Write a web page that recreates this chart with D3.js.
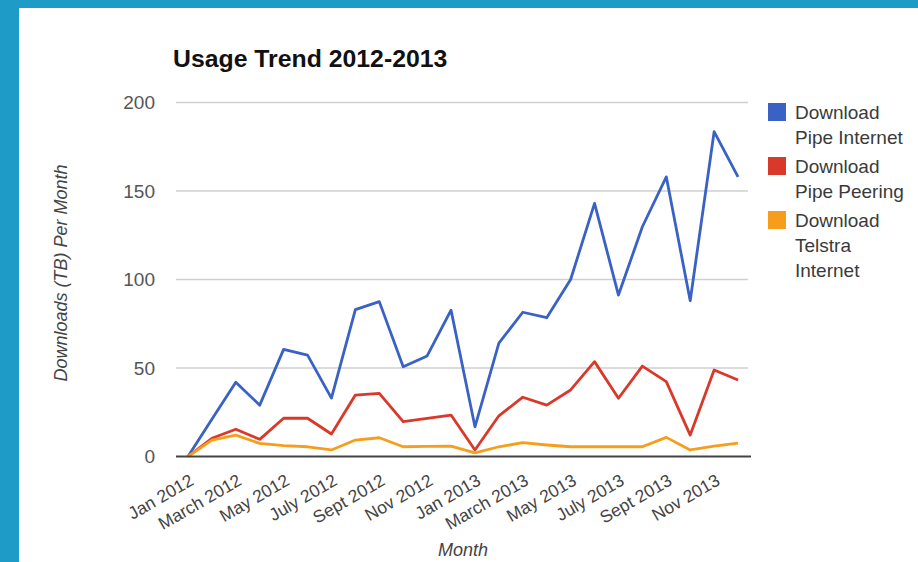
<!DOCTYPE html>
<html>
<head>
<meta charset="utf-8">
<script src="https://cdn.jsdelivr.net/npm/d3@7"></script>
<style>
    body { margin: 0; background: #1f9bc8; }
    text { font-family: "Liberation Sans", Arial, sans-serif; }
</style>
</head>
<body>
<svg id="chart" width="918" height="562"></svg>
<script>
var months = [
    "Jan 2012", "Feb 2012", "March 2012", "April 2012", "May 2012", "June 2012",
    "July 2012", "Aug 2012", "Sept 2012", "Oct 2012", "Nov 2012", "Dec 2012",
    "Jan 2013", "Feb 2013", "March 2013", "April 2013", "May 2013", "June 2013",
    "July 2013", "Aug 2013", "Sept 2013", "Oct 2013", "Nov 2013", "Dec 2013"
];

var pipeInternet = [0, 21, 42, 29, 60.5, 57.3, 33, 83, 87.5, 50.7, 56.8, 82.7,
    16.8, 64, 81.5, 78.4, 100, 143, 91.2, 129.8, 158, 88, 183.5, 158];
var pipePeering = [0, 10.3, 15.4, 9.7, 21.6, 21.6, 12.7, 34.7, 35.7, 19.7, 21.6, 23.4,
    3.7, 23, 33.5, 29, 37.6, 53.6, 32.9, 51.1, 42.3, 12.1, 48.9, 43.2];
var telstraInternet = [0, 9.3, 12.1, 7.4, 6.1, 5.5, 3.7, 9.3, 10.6, 5.5, 5.7, 5.9,
    2.1, 5.5, 7.8, 6.5, 5.5, 5.5, 5.5, 5.5, 10.8, 3.7, 5.9, 7.5];

var yTicks = [0, 50, 100, 150, 200];

var series = [
    { name: ["Download", "Pipe Internet"], values: pipeInternet, color: "#3a62c4" },
    { name: ["Download", "Pipe Peering"], values: pipePeering, color: "#d9392a" },
    { name: ["Download", "Telstra", "Internet"], values: telstraInternet, color: "#f79d1c" }
];

var svg = d3.select("#chart");

// white card inside the blue frame
svg.append("rect")
    .attr("x", 19).attr("y", 8)
    .attr("width", 918 - 19).attr("height", 562 - 8)
    .attr("fill", "#ffffff");

var plot = { left: 176, right: 750, top: 102.5, bottom: 456.5 };

var x = d3.scaleBand()
    .domain(months)
    .range([plot.left, plot.right]);

var y = d3.scaleLinear()
    .domain([0, 200])
    .range([plot.bottom, plot.top]);

var cx = function(i) {
    return x(months[i]) + x.bandwidth() / 2;
};

// gridlines
svg.append("g")
    .selectAll("line")
    .data(yTicks.slice(1))
    .enter().append("line")
    .attr("x1", plot.left).attr("x2", plot.right - 2)
    .attr("y1", function(d) { return y(d); })
    .attr("y2", function(d) { return y(d); })
    .attr("stroke", "#cfcfcf")
    .attr("stroke-width", 1.3);

// y tick labels
svg.append("g")
    .selectAll("text")
    .data(yTicks)
    .enter().append("text")
    .attr("x", 155)
    .attr("y", function(d) { return y(d); })
    .attr("dy", "0.36em")
    .attr("text-anchor", "end")
    .attr("font-size", 19)
    .attr("fill", "#555")
    .text(function(d) { return d; });

// x tick labels, every other month
svg.append("g")
    .selectAll("text")
    .data(months.filter(function(d, i) { return i % 2 === 0; }))
    .enter().append("text")
    .attr("transform", function(d) {
        return "translate(" + (x(d) + x.bandwidth() / 2 + 7) + ",484) rotate(-30)";
    })
    .attr("text-anchor", "end")
    .attr("font-size", 17.5)
    .attr("fill", "#444")
    .text(function(d) { return d; });

// lines
var line = d3.line()
    .x(function(d, i) { return cx(i); })
    .y(function(d) { return y(d); });

svg.append("g")
    .selectAll("path")
    .data(series)
    .enter().append("path")
    .attr("d", function(d) { return line(d.values); })
    .attr("fill", "none")
    .attr("stroke", function(d) { return d.color; })
    .attr("stroke-width", 2.8)
    .attr("stroke-linejoin", "round");

// baseline
svg.append("line")
    .attr("x1", plot.left).attr("x2", plot.right + 1)
    .attr("y1", y(0)).attr("y2", y(0))
    .attr("stroke", "#444")
    .attr("stroke-width", 2);

// title
svg.append("text")
    .attr("x", 173).attr("y", 67)
    .attr("font-size", 24.8)
    .attr("font-weight", "bold")
    .attr("fill", "#111")
    .text("Usage Trend 2012-2013");

// axis titles
svg.append("text")
    .attr("x", (plot.left + plot.right) / 2)
    .attr("y", 556)
    .attr("text-anchor", "middle")
    .attr("font-size", 18)
    .attr("font-style", "italic")
    .attr("fill", "#444")
    .text("Month");

svg.append("text")
    .attr("transform", "translate(67,273) rotate(-90)")
    .attr("text-anchor", "middle")
    .attr("font-size", 18)
    .attr("font-style", "italic")
    .attr("fill", "#444")
    .text("Downloads (TB) Per Month");

// legend
var legend = svg.append("g");
var entryTop = [103, 157, 211];

series.forEach(function(s, i) {
    legend.append("rect")
        .attr("x", 768).attr("y", entryTop[i])
        .attr("width", 18).attr("height", 18)
        .attr("fill", s.color);
    s.name.forEach(function(part, j) {
        legend.append("text")
            .attr("x", 795)
            .attr("y", entryTop[i] + 15.5 + j * 25)
            .attr("font-size", 19)
            .attr("fill", "#3a3a3a")
            .text(part);
    });
});
</script>
</body>
</html>
